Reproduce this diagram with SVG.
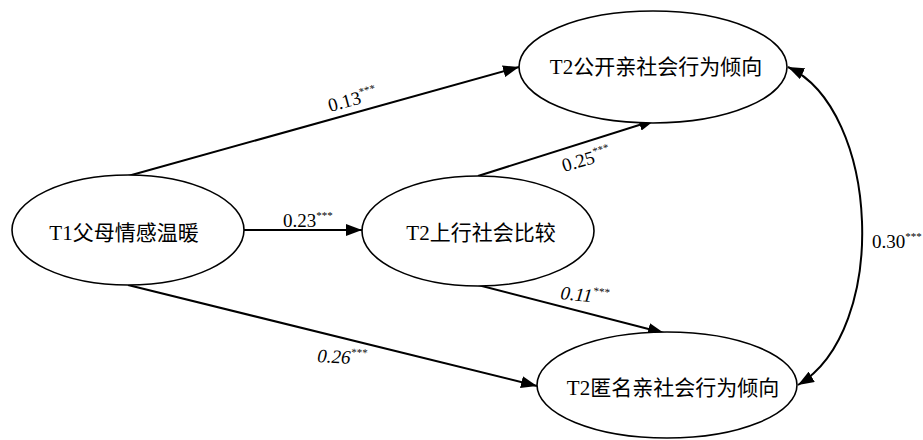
<svg xmlns="http://www.w3.org/2000/svg" width="923" height="440" viewBox="0 0 923 440">
<style>
.node ellipse{fill:#fff;stroke:#000;stroke-width:1.6}
.node text{font-family:"Liberation Serif","Noto Sans CJK SC",serif;font-size:21px;text-anchor:middle;fill:#000}
.conn path,.conn line{fill:none;stroke:#000;stroke-width:2}
.lbl{font-family:"Liberation Serif",serif;font-size:19px;fill:#000}
.it{font-style:italic}
.sup{font-size:11px}
</style>
<defs>
<marker id="ah" markerUnits="userSpaceOnUse" markerWidth="16" markerHeight="12" viewBox="0 0 16 12" refX="16" refY="6" orient="auto-start-reverse">
<path d="M0,0 L16,6 L0,12 Z" fill="#000"/>
</marker>
</defs>
<rect width="923" height="440" fill="#fff"/>
<g class="conn">
<line x1="128" y1="176" x2="519" y2="67" marker-end="url(#ah)"/>
<line x1="244" y1="230" x2="362" y2="230" marker-end="url(#ah)"/>
<line x1="478" y1="176" x2="655" y2="120" marker-end="url(#ah)"/>
<line x1="478" y1="285" x2="664" y2="333" marker-end="url(#ah)"/>
<line x1="128" y1="285" x2="537" y2="386" marker-end="url(#ah)"/>
<path d="M788,67 C880,110 890,330 798,385" marker-start="url(#ah)" marker-end="url(#ah)"/>
</g>
<g id="labels">
<text class="lbl" transform="translate(330,112) rotate(-15)">0.13<tspan class="sup" dy="-8">***</tspan></text>
<text class="lbl" x="283" y="227">0.23<tspan class="sup" dy="-8">***</tspan></text>
<text class="lbl" transform="translate(564,172) rotate(-16)">0.25<tspan class="sup" dy="-8">***</tspan></text>
<text class="lbl it" transform="translate(560,299) rotate(6)">0.11<tspan class="sup" dy="-8">***</tspan></text>
<text class="lbl it" transform="translate(317,362) rotate(3)">0.26<tspan class="sup" dy="-8">***</tspan></text>
<text class="lbl" x="872" y="248">0.30<tspan class="sup" dy="-8">***</tspan></text>
</g>
<g id="n1" class="node"><ellipse cx="128" cy="230" rx="116" ry="55"/><text x="124" y="240">T1父母情感温暖</text></g>
<g id="n2" class="node"><ellipse cx="478" cy="231" rx="116" ry="55"/><text x="481" y="240">T2上行社会比较</text></g>
<g id="n3" class="node"><ellipse cx="653" cy="67" rx="134" ry="56"/><text x="656" y="74">T2公开亲社会行为倾向</text></g>
<g id="n4" class="node"><ellipse cx="667" cy="385" rx="130" ry="53"/><text x="673" y="395">T2匿名亲社会行为倾向</text></g>
</svg>
